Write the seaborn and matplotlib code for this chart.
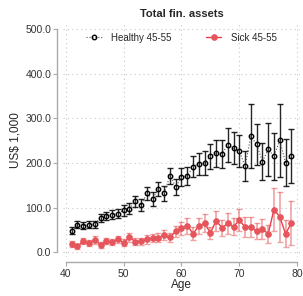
import seaborn as sns
import matplotlib.pyplot as plt
import pandas as pd
import numpy as np

ages = list(range(41, 80))

healthy = [49, 62, 60, 62, 63, 78, 82, 84, 87, 94,
           98, 114, 106, 132, 120, 142, 132, 172, 147, 168,
           171, 192, 198, 200, 215, 222, 221, 240, 233, 227,
           193, 260, 242, 203, 231, 215, 251, 201, 216]
healthy_err = [7, 8, 8, 8, 8, 9, 9, 10, 10, 12,
               12, 13, 13, 15, 15, 16, 16, 18, 18, 20,
               21, 23, 25, 26, 28, 30, 31, 38, 36, 36,
               33, 72, 46, 42, 59, 53, 82, 53, 60]

sick = [19, 14, 25, 21, 28, 17, 25, 23, 29, 22,
        34, 24, 25, 29, 32, 33, 39, 34, 47, 54,
        60, 42, 59, 65, 44, 71, 55, 65, 58, 72,
        57, 57, 47, 52, 42, 96, 80, 42, 65]
sick_err = [6, 6, 7, 7, 8, 6, 7, 7, 8, 7,
            10, 8, 8, 9, 9, 10, 11, 10, 13, 15,
            18, 14, 18, 20, 14, 22, 18, 24, 20, 25,
            22, 22, 18, 22, 20, 48, 56, 30, 49]

df = pd.DataFrame({"Age": ages, "healthy": healthy, "sick": sick})

sns.set_style("ticks")
plt.rcParams["font.family"] = ["Liberation Sans", "DejaVu Sans"]

red = "#e5565c"
fig = plt.figure(figsize=(3.03, 2.96), dpi=100)
ax = fig.add_axes([0.208, 0.132, 0.782, 0.787])

ax.grid(True, color="#c8c8c8", linestyle=(0, (1, 3)), linewidth=0.8)

ax.errorbar(ages, healthy, yerr=healthy_err, fmt="none", ecolor="black",
            alpha=0.85, elinewidth=1.0, capsize=2, capthick=1.0, zorder=3)
ax.errorbar(ages, sick, yerr=sick_err, fmt="none", ecolor=red,
            alpha=0.55, elinewidth=1.2, capsize=2, capthick=1.0, zorder=3)

sns.lineplot(data=df, x="Age", y="healthy", ax=ax, color="#555555",
             linestyle=":", linewidth=0.8, marker="o", markersize=3.2,
             markerfacecolor="none", markeredgecolor="black",
             markeredgewidth=1.0, label="Healthy 45-55", zorder=4)
sns.lineplot(data=df, x="Age", y="sick", ax=ax, color="#e8404a",
             linewidth=1.0, marker="o", markersize=4, markerfacecolor=red,
             markeredgecolor=red, label="Sick 45-55", zorder=4)

ax.set_xlim(39.5, 80.5)
ax.set_ylim(-10, 511)
ax.set_xticks([40, 50, 60, 70, 80])
ax.set_yticks([0, 100, 200, 300, 400, 500])
ax.set_yticklabels(["0.0", "100.0", "200.0", "300.0", "400.0", "500.0"])
ax.tick_params(labelsize=7.5, colors="#333333", length=3, width=0.8,
               color="#aaaaaa", pad=1.5)

sns.despine(ax=ax, offset=4, trim=True)
for s in ["left", "bottom"]:
    ax.spines[s].set_color("#aaaaaa")
    ax.spines[s].set_linewidth(1.0)

ax.set_xlabel("Age", fontsize=8.5, labelpad=0.5)
ax.set_ylabel("US$ 1,000", fontsize=8.5, labelpad=3)
ax.set_title("Total fin. assets", fontsize=8, fontweight="bold", pad=5)

ax.legend(loc="upper center", ncol=2, frameon=False, fontsize=7,
          bbox_to_anchor=(0.5, 1.0), columnspacing=3.5, handlelength=1.6,
          handletextpad=1.0)

fig.savefig("out.png", dpi=100)
